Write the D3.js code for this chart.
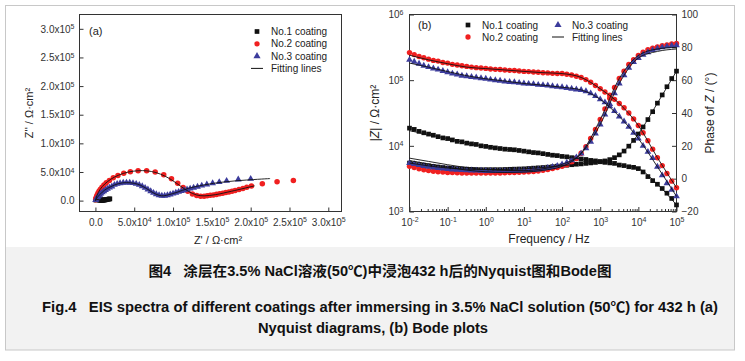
<!DOCTYPE html>
<html><head><meta charset="utf-8">
<script src="https://cdn.jsdelivr.net/npm/d3@7"></script>
<style>
body{margin:0;background:#fff}
svg{display:block}
text{font-family:"Liberation Sans",Arial,"Noto Sans CJK SC",sans-serif}
</style>
</head><body>
<svg id="c" width="745" height="361"></svg>
<script>
// ---------------- DATA ----------------
const seriesNames = ["No.1 coating", "No.2 coating", "No.3 coating"];
const fitName = "Fitting lines";

// Nyquist (a) ticks
const nyqTicks = [0, 5e4, 1e5, 1.5e5, 2e5, 2.5e5, 3e5];
const nyqTickBase = ["0.0", "5.0x10", "1.0x10", "1.5x10", "2.0x10", "2.5x10", "3.0x10"];
const nyqTickExp = ["", "4", "5", "5", "5", "5", "5"];

// Nyquist data (Z', Z'')
const nyq1Re = [500, 900, 1400, 2000, 2600, 3200, 3800, 4400, 5000, 5500, 6000, 6500, 7000, 7600, 8200, 8800, 9500, 10300, 11100, 12000, 13000, 14100, 15300, 16600, 17800, 18600];
const nyq1Im = [1100, 1400, 1700, 1900, 2000, 2000, 1900, 1700, 1400, 1200, 1000, 900, 850, 800, 800, 820, 880, 950, 1050, 1200, 1400, 1700, 2000, 2400, 2800, 3100];

const nyq2Re = [300, 700, 1200, 1800, 2600, 3600, 4900, 6500, 8500, 11000, 14000, 18000, 23000, 29000, 36500, 45000, 55000, 66000, 77000, 88000, 98000, 106000, 113000, 119000, 125000, 130500, 135500, 140000, 144000, 148000, 152000, 156000, 160000, 164000, 168000, 172000, 176000, 180000, 185000, 190000, 195000, 201000, 215000, 234000, 255000];
const nyq2Im = [1500, 3500, 5800, 8200, 10800, 13600, 16700, 20000, 23500, 27200, 31000, 35300, 39800, 44000, 47800, 50500, 52000, 52000, 49800, 45000, 38000, 30500, 23000, 16500, 11500, 8800, 7800, 7800, 8400, 9200, 10000, 10900, 11900, 12900, 14000, 15200, 16500, 17800, 19400, 21200, 23200, 25500, 29600, 33000, 35000];

const nyq3Re = [300, 800, 1500, 2300, 3200, 4300, 5600, 7100, 8800, 10800, 13000, 15500, 18200, 21200, 24500, 28000, 31800, 35800, 40000, 44200, 48400, 52500, 56500, 60300, 64000, 67600, 71200, 74800, 78400, 82000, 85600, 89200, 92800, 96400, 100000, 103600, 107200, 110800, 114400, 118000, 122000, 126500, 131500, 137000, 143500, 151000, 159500, 169000, 184000, 200000];
const nyq3Im = [900, 2000, 3500, 5000, 6600, 8400, 10300, 12300, 14400, 16500, 18600, 20700, 22700, 24600, 27500, 29200, 30400, 31200, 31500, 31300, 30600, 29300, 27500, 25100, 22300, 19400, 16400, 13600, 11200, 9400, 8500, 8500, 9400, 10800, 12300, 13800, 15300, 16700, 18100, 19500, 21000, 22600, 24300, 26200, 28200, 30300, 32400, 34500, 37000, 38000];

// Nyquist fitting lines
const fit1Re = [500, 2000, 3500, 5000, 7000, 9500, 12000, 15300, 18600];
const fit1Im = [1100, 1900, 2000, 1400, 850, 880, 1200, 2000, 3100];
const fit2Re = [0, 2000, 6000, 12000, 20000, 30000, 42000, 55000, 66000, 78000, 90000, 100000, 110000, 120000, 130000, 140000, 155000, 175000, 205000];
const fit2Im = [0, 9000, 19500, 29000, 37500, 44500, 49800, 52200, 52000, 49000, 42500, 34500, 25000, 16000, 10000, 8300, 10500, 16300, 25800];
const fit3Re = [0, 2000, 6000, 12000, 20000, 30000, 40000, 50000, 58000, 66000, 74000, 82000, 88000, 95000, 105000, 120000, 140000, 165000, 195000, 225000];
const fit3Im = [0, 4800, 11000, 18500, 24500, 29800, 31400, 30200, 26800, 21000, 14000, 9300, 8400, 10500, 14500, 21500, 27500, 32500, 36000, 38500];

// Bode (b)
const freq = [0.01, 0.0133, 0.0178, 0.0237, 0.0316, 0.0422, 0.0562, 0.075,
  0.1, 0.133, 0.178, 0.237, 0.316, 0.422, 0.562, 0.75,
  1, 1.33, 1.78, 2.37, 3.16, 4.22, 5.62, 7.5,
  10, 13.3, 17.8, 23.7, 31.6, 42.2, 56.2, 75,
  100, 133, 178, 237, 316, 422, 562, 750,
  1000, 1330, 1780, 2370, 3160, 4220, 5620, 7500,
  10000, 13300, 17800, 23700, 31600, 42200, 56200, 75000,
  100000];
const zmod1 = [1.86e4, 1.78e4, 1.66e4, 1.58e4, 1.51e4, 1.45e4, 1.38e4, 1.32e4,
  1.29e4, 1.23e4, 1.17e4, 1.15e4, 1.10e4, 1.07e4, 1.05e4, 1.0e4,
  9.8e3, 9.5e3, 9.3e3, 9.1e3, 8.9e3, 8.8e3, 8.7e3, 8.5e3,
  8.3e3, 8.1e3, 7.9e3, 7.8e3, 7.6e3, 7.4e3, 7.2e3, 7.1e3,
  6.9e3, 6.8e3, 6.6e3, 6.5e3, 6.3e3, 6.2e3, 6.0e3, 5.9e3,
  5.75e3, 5.6e3, 5.5e3, 5.4e3, 5.1e3, 5.0e3, 4.8e3, 4.7e3,
  4.5e3, 4.0e3, 3.4e3, 2.95e3, 2.6e3, 2.24e3, 1.9e3, 1.58e3,
  1.26e3];
const zmod2 = [2.63e5, 2.45e5, 2.29e5, 2.19e5, 2.09e5, 2.0e5, 1.95e5, 1.86e5,
  1.82e5, 1.74e5, 1.70e5, 1.66e5, 1.62e5, 1.58e5, 1.55e5, 1.53e5,
  1.51e5, 1.48e5, 1.46e5, 1.45e5, 1.43e5, 1.41e5, 1.40e5, 1.38e5,
  1.36e5, 1.35e5, 1.33e5, 1.32e5, 1.30e5, 1.29e5, 1.27e5, 1.26e5,
  1.26e5, 1.23e5, 1.20e5, 1.15e5, 1.10e5, 1.02e5, 9.3e4, 8.3e4,
  7.4e4, 6.6e4, 5.9e4, 5.1e4, 4.4e4, 3.8e4, 3.16e4, 2.57e4,
  2.04e4, 1.58e4, 1.20e4, 8.9e3, 6.6e3, 5.0e3, 3.8e3, 2.9e3,
  2.3e3];
const zmod3 = [2.04e5, 1.91e5, 1.78e5, 1.66e5, 1.58e5, 1.51e5, 1.45e5, 1.38e5,
  1.32e5, 1.26e5, 1.22e5, 1.17e5, 1.15e5, 1.12e5, 1.10e5, 1.07e5,
  1.05e5, 1.02e5, 1.0e5, 9.8e4, 9.5e4, 9.4e4, 9.3e4, 9.1e4,
  8.9e4, 8.8e4, 8.7e4, 8.5e4, 8.4e4, 8.3e4, 8.1e4, 7.9e4,
  7.8e4, 7.6e4, 7.4e4, 7.2e4, 7.1e4, 6.8e4, 6.3e4, 5.75e4,
  5.1e4, 4.6e4, 4.0e4, 3.4e4, 2.8e4, 2.35e4, 1.95e4, 1.58e4,
  1.29e4, 1.0e4, 8.1e3, 6.5e3, 4.8e3, 3.55e3, 2.7e3, 2.14e3,
  1.7e3];
const phase1 = [9.5, 9.0, 8.6, 8.2, 7.8, 7.4, 7.1, 6.8,
  6.5, 6.3, 6.1, 5.9, 5.8, 5.7, 5.6, 5.5,
  5.5, 5.5, 5.5, 5.5, 5.6, 5.7, 5.8, 5.9,
  6.0, 6.2, 6.4, 6.6, 6.8, 7.0, 7.3, 7.6,
  7.9, 8.2, 8.5, 8.8, 9.0, 9.3, 9.6, 9.9,
  10.3, 10.8, 11.6, 12.8, 14.5, 16.8, 19.8, 23.3,
  27.2, 31.5, 36, 40.8, 46, 51, 56, 61,
  65.5];
const phase2 = [7.5, 6.8, 6.0, 5.4, 4.9, 4.5, 4.2, 4.0,
  3.8, 3.7, 3.6, 3.5, 3.5, 3.4, 3.4, 3.4,
  3.4, 3.4, 3.5, 3.5, 3.6, 3.7, 3.8, 3.9,
  4.0, 4.2, 4.4, 4.7, 5.1, 5.6, 6.2, 6.8,
  7.5, 8.5, 10.0, 12.3, 15.5, 19.5, 24.5, 30,
  36, 42.5, 49, 55.5, 61, 65.5, 69.5, 72.5,
  75, 77, 78.5, 79.5, 80.3, 81, 81.5, 82,
  82.3];
const phase3 = [9.5, 8.9, 8.3, 7.7, 7.2, 6.8, 6.4, 6.1,
  5.8, 5.6, 5.4, 5.2, 5.1, 5.0, 4.9, 4.8,
  4.7, 4.7, 4.6, 4.6, 4.6, 4.6, 4.7, 4.8,
  4.9, 5.1, 5.3, 5.6, 6.0, 6.5, 7.1, 7.8,
  8.7, 9.8, 11.2, 13.0, 15.3, 18.5, 22.5, 27.5,
  33, 39, 45.5, 52, 58, 63, 67.5, 71,
  73.5, 75.5, 77, 78.3, 79.3, 80, 80.6, 81,
  81.3];

// Bode fitting lines
const fitFreq = [0.01, 0.0316, 0.1, 0.316, 1, 3.16, 10, 31.6, 100, 316, 1000, 3160, 10000, 31600, 100000];
const fitZ1 = [1.70e4, 1.48e4, 1.29e4, 1.10e4, 9.8e3, 8.9e3, 8.3e3, 7.6e3, 6.9e3, 6.3e3, 5.75e3, 5.1e3, 4.5e3, 2.6e3, 1.26e3];
const fitZ2 = [2.4e5, 2.04e5, 1.78e5, 1.58e5, 1.5e5, 1.43e5, 1.36e5, 1.30e5, 1.26e5, 1.10e5, 7.4e4, 4.4e4, 2.04e4, 6.6e3, 2.3e3];
const fitZ3 = [1.82e5, 1.58e5, 1.35e5, 1.17e5, 1.05e5, 9.7e4, 8.9e4, 8.4e4, 7.8e4, 7.1e4, 5.1e4, 2.8e4, 1.29e4, 4.8e3, 1.7e3];
const fitP1 = [9.5, 7.8, 6.5, 5.8, 5.5, 5.6, 6.0, 6.8, 7.9, 9.0, 10.3, 14.5, 27.2, 46, 65.5];
const fitP2 = [11, 9, 7, 5.2, 4.2, 3.8, 4.0, 5.1, 7.5, 15.5, 36, 61, 75, 79, 80];
const fitP3 = [12.5, 10.5, 8.5, 6.8, 5.6, 5.0, 4.9, 6.0, 8.7, 15.3, 33, 58, 73.5, 77.5, 79];

const bodeXTicks = [1e-2, 1e-1, 1, 1e1, 1e2, 1e3, 1e4, 1e5];
const bodeXExp = ["-2", "-1", "0", "1", "2", "3", "4", "5"];
const bodeYTicks = [1e3, 1e4, 1e5, 1e6];
const bodeYExp = ["3", "4", "5", "6"];
const phaseTicks = [-20, 0, 20, 40, 60, 80, 100];

const captionLines = [
  "图4\u00a0\u00a0\u00a0涂层在3.5% NaCl溶液(50℃)中浸泡432 h后的Nyquist图和Bode图",
  "Fig.4\u00a0\u00a0\u00a0EIS spectra of different coatings after immersing in 3.5% NaCl solution (50℃) for 432 h (a)",
  "Nyquist diagrams, (b) Bode plots"
];

// ---------------- STYLE ----------------
const colors = ["#111111", "#f02020", "#3c3c9c"];
const shapes = [d3.symbolSquare, d3.symbolCircle, d3.symbolTriangle];
const FONT = "Liberation Sans, Arial, sans-serif";

const svg = d3.select("#c");
svg.append("rect").attr("width", 745).attr("height", 361).attr("fill", "#fff");
svg.append("rect").attr("x", 5.5).attr("y", 247).attr("width", 729).attr("height", 103).attr("fill", "#f2f2f2");
svg.append("rect").attr("x", 5.5).attr("y", 5.5).attr("width", 729).attr("height", 344.5)
  .attr("fill", "none").attr("stroke", "#c8c8c8");

function supLabels(g, bases, exps) {
  g.selectAll(".tick text").each(function (d, i) {
    const t = d3.select(this);
    t.text(null);
    t.append("tspan").text(bases[i]);
    if (exps[i]) t.append("tspan").attr("dy", "-0.45em").attr("font-size", "7px").text(exps[i]);
  });
}
function styleAxis(g) {
  g.attr("font-family", FONT).attr("font-size", 10).attr("color", "#333");
  g.select(".domain").remove();
  g.selectAll(".tick text").attr("fill", "#333");
}
function sym(shape, size) { return d3.symbol().type(shape).size(size)(); }

// ---------------- PANEL (a) Nyquist ----------------
const xA = d3.scaleLinear().domain([-2.05e4, 3.17e5]).range([79.5, 341.5]);
const yA = d3.scaleLinear().domain([-1.9e4, 3.25e5]).range([211.5, 14.5]);
const gA = svg.append("g");

const axAx = gA.append("g").attr("transform", "translate(0,211.5)")
  .call(d3.axisBottom(xA).tickValues(nyqTicks).tickSize(-4).tickSizeOuter(0).tickPadding(7));
styleAxis(axAx); supLabels(axAx, nyqTickBase, nyqTickExp);
const axAy = gA.append("g").attr("transform", "translate(79.5,0)")
  .call(d3.axisLeft(yA).tickValues(nyqTicks).tickSize(-4).tickSizeOuter(0).tickPadding(5));
styleAxis(axAy); supLabels(axAy, nyqTickBase, nyqTickExp);
axAy.selectAll(".tick text").attr("text-anchor", "end");

gA.append("rect").attr("x", 79.5).attr("y", 14.5).attr("width", 262).attr("height", 197)
  .attr("fill", "none").attr("stroke", "#333").attr("stroke-width", 1);

const nyqData = [
  nyq1Re.map((r, i) => [r, nyq1Im[i]]),
  nyq2Re.map((r, i) => [r, nyq2Im[i]]),
  nyq3Re.map((r, i) => [r, nyq3Im[i]])
];
const nyqFits = [
  fit1Re.map((r, i) => [r, fit1Im[i]]),
  fit2Re.map((r, i) => [r, fit2Im[i]]),
  fit3Re.map((r, i) => [r, fit3Im[i]])
];
const nyqSizes = [22, 24, 20];
nyqData.forEach((pts, s) => {
  gA.append("g").selectAll("path").data(pts).join("path")
    .attr("d", sym(shapes[s], nyqSizes[s]))
    .attr("transform", d => `translate(${xA(d[0])},${yA(d[1])})`)
    .attr("fill", colors[s]);
});
const lineA = d3.line().x(d => xA(d[0])).y(d => yA(d[1])).curve(d3.curveCatmullRom);
nyqFits.forEach(pts => {
  gA.append("path").datum(pts).attr("d", lineA).attr("fill", "none")
    .attr("stroke", "#111").attr("stroke-width", 0.9);
});

gA.append("text").attr("x", 89).attr("y", 35).attr("font-size", 11).attr("fill", "#222").text("(a)");

// legend (a)
const legA = gA.append("g").attr("font-size", 10).attr("fill", "#222");
seriesNames.forEach((n, i) => {
  const y = 31.5 + i * 12.3;
  legA.append("path").attr("d", sym(shapes[i], 22))
    .attr("transform", `translate(257,${y})`).attr("fill", colors[i]);
  legA.append("text").attr("x", 271).attr("y", y).attr("dy", "0.35em").text(n);
});
legA.append("line").attr("x1", 251).attr("x2", 263).attr("y1", 68.4).attr("y2", 68.4).attr("stroke", "#111");
legA.append("text").attr("x", 271).attr("y", 68.4).attr("dy", "0.35em").text(fitName);

// titles (a)
gA.append("text").attr("transform", "translate(33,113) rotate(-90)").attr("text-anchor", "middle")
  .attr("font-size", 11).attr("fill", "#222").text("Z'' / Ω·cm²");
gA.append("text").attr("x", 218).attr("y", 244).attr("text-anchor", "middle")
  .attr("font-size", 11).attr("fill", "#222").text("Z' / Ω·cm²");

// ---------------- PANEL (b) Bode ----------------
const xB = d3.scaleLog().domain([1e-2, 1e5]).range([409.5, 676.5]);
const yB = d3.scaleLog().domain([1e3, 1e6]).range([211.5, 14.5]);
const yP = d3.scaleLinear().domain([-20, 100]).range([211.5, 14.5]);
const gB = svg.append("g");

const minorX = xB.ticks().filter(v => !bodeXTicks.some(t => Math.abs(t - v) / t < 1e-6));
const axBm = gB.append("g").attr("transform", "translate(0,211.5)")
  .call(d3.axisBottom(xB).tickValues(minorX).tickSize(-2.5).tickSizeOuter(0).tickFormat(""));
styleAxis(axBm);
const axBx = gB.append("g").attr("transform", "translate(0,211.5)")
  .call(d3.axisBottom(xB).tickValues(bodeXTicks).tickSize(-4.5).tickSizeOuter(0).tickPadding(7));
styleAxis(axBx); supLabels(axBx, bodeXTicks.map(() => "10"), bodeXExp);
const axBy = gB.append("g").attr("transform", "translate(409.5,0)")
  .call(d3.axisLeft(yB).tickValues(bodeYTicks).tickSize(-4.5).tickSizeOuter(0).tickPadding(6));
styleAxis(axBy); supLabels(axBy, bodeYTicks.map(() => "10"), bodeYExp);
const axBp = gB.append("g").attr("transform", "translate(676.5,0)")
  .call(d3.axisRight(yP).tickValues(phaseTicks).tickSize(-4.5).tickSizeOuter(0).tickPadding(5));
styleAxis(axBp);

gB.append("rect").attr("x", 409.5).attr("y", 14.5).attr("width", 267).attr("height", 197)
  .attr("fill", "none").attr("stroke", "#333").attr("stroke-width", 1);

const zmods = [zmod1, zmod2, zmod3];
const phases = [phase1, phase2, phase3];
const bodeSizes = [22, 23, 20];
[0, 1, 2].forEach(s => {
  const g = gB.append("g").attr("fill", colors[s]);
  g.selectAll("path.z").data(freq.map((f, i) => [f, zmods[s][i]])).join("path")
    .attr("d", sym(shapes[s], bodeSizes[s]))
    .attr("transform", d => `translate(${xB(d[0])},${yB(d[1])})`);
  g.selectAll("path.p").data(freq.map((f, i) => [f, phases[s][i]])).join("path")
    .attr("d", sym(shapes[s], bodeSizes[s]))
    .attr("transform", d => `translate(${xB(d[0])},${yP(d[1])})`);
});
const fitZs = [fitZ1, fitZ2, fitZ3];
const fitPs = [fitP1, fitP2, fitP3];
const lineZ = d3.line().x(d => xB(d[0])).y(d => yB(d[1])).curve(d3.curveMonotoneX);
const lineP = d3.line().x(d => xB(d[0])).y(d => yP(d[1])).curve(d3.curveMonotoneX);
[0, 1, 2].forEach(s => {
  gB.append("path").datum(fitFreq.map((f, i) => [f, fitZs[s][i]])).attr("d", lineZ)
    .attr("fill", "none").attr("stroke", "#111").attr("stroke-width", 0.9);
  gB.append("path").datum(fitFreq.map((f, i) => [f, fitPs[s][i]])).attr("d", lineP)
    .attr("fill", "none").attr("stroke", "#111").attr("stroke-width", 0.9);
});

gB.append("text").attr("x", 418).attr("y", 29).attr("font-size", 11).attr("fill", "#222").text("(b)");

// legend (b)
const legB = gB.append("g").attr("font-size", 10).attr("fill", "#222");
const legBPos = [[468, 25], [468, 37], [558, 25]];
seriesNames.forEach((n, i) => {
  const [x, y] = legBPos[i];
  legB.append("path").attr("d", sym(shapes[i], 22)).attr("transform", `translate(${x},${y})`).attr("fill", colors[i]);
  legB.append("text").attr("x", x + 14).attr("y", y).attr("dy", "0.35em").text(n);
});
legB.append("line").attr("x1", 552).attr("x2", 564).attr("y1", 37).attr("y2", 37).attr("stroke", "#111");
legB.append("text").attr("x", 572).attr("y", 37).attr("dy", "0.35em").text(fitName);

// titles (b)
const tZ = gB.append("text").attr("transform", "translate(379,113) rotate(-90)").attr("text-anchor", "middle")
  .attr("font-size", 12).attr("fill", "#222");
tZ.append("tspan").text("|");
tZ.append("tspan").attr("font-style", "italic").text("Z");
tZ.append("tspan").text("| / Ω·cm²");
const tP = gB.append("text").attr("transform", "translate(714,113) rotate(-90)").attr("text-anchor", "middle")
  .attr("font-size", 12).attr("fill", "#222");
tP.append("tspan").text("Phase of ");
tP.append("tspan").attr("font-style", "italic").text("Z");
tP.append("tspan").text(" / (°)");
gB.append("text").attr("x", 549).attr("y", 243).attr("text-anchor", "middle")
  .attr("font-size", 12).attr("fill", "#222").text("Frequency / Hz");

// ---------------- CAPTION ----------------
const cap = svg.append("g").attr("font-weight", "bold").attr("fill", "#111").attr("font-size", 14)
  .attr("text-anchor", "middle");
const capPos = [[380, 276, 463], [380, 312, 676], [373, 333, 230]];
captionLines.forEach((t, i) => {
  cap.append("text").attr("x", capPos[i][0]).attr("y", capPos[i][1])
    .attr("textLength", capPos[i][2]).attr("lengthAdjust", "spacingAndGlyphs").text(t);
});
</script>
</body></html>
